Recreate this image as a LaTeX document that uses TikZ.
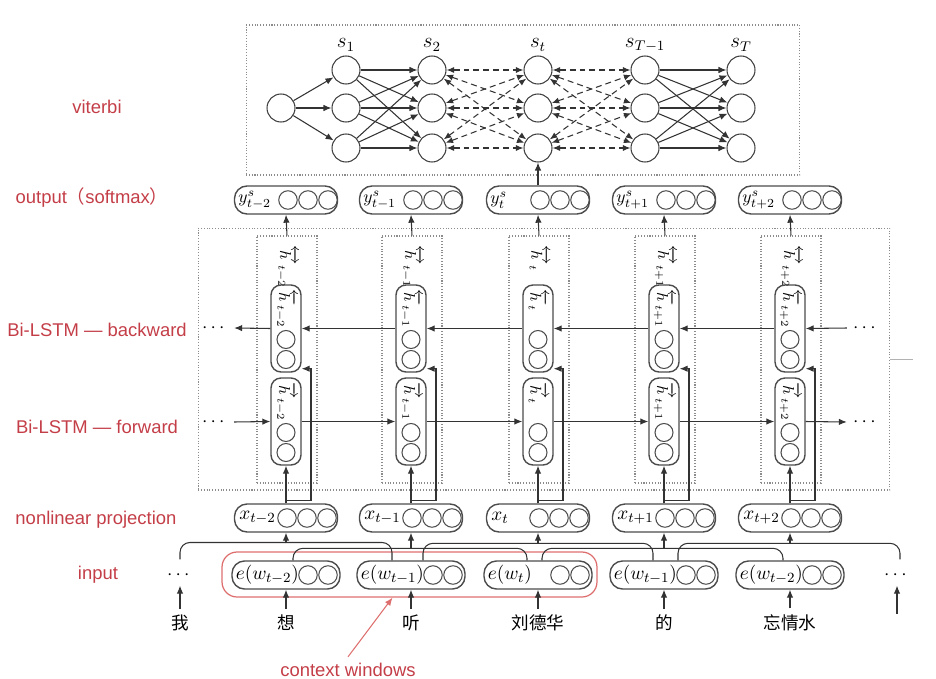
\documentclass[tikz,border=0pt]{standalone}
\usepackage{amsmath}
\usepackage{fontspec}
\newfontfamily\labfont{Liberation Sans}
\newfontfamily\cjk{Noto Sans CJK SC}
\usetikzlibrary{arrows.meta}
\definecolor{labred}{RGB}{196,62,72}
\definecolor{ctxred}{RGB}{222,110,110}

\begin{document}
\begin{tikzpicture}[x=0.02cm, y=-0.02cm, line width=0.6pt,
	every node/.style={font=\fontsize{11}{13}\selectfont},
	arr/.style={draw=black!80, -{Latex[length=1.6mm,width=1.3mm]}},
	darr/.style={draw=black!80, dash pattern=on 1.2mm off 0.8mm, {Latex[length=1.5mm,width=1.2mm]}-{Latex[length=1.5mm,width=1.2mm]}},
	conn/.style={draw=black!80, rounded corners=2mm},
	vit/.style={draw=black!75, circle, minimum size=5.6mm, inner sep=0pt},
	vec/.style={draw=black!70, line width=0.8pt, rounded corners=2.5mm, minimum width=2.06cm, minimum height=0.56cm, inner sep=0pt},
	unit/.style={draw=black!70, circle, minimum size=3.7mm, inner sep=0pt},
	cell/.style={draw=black!70, line width=0.8pt, rounded corners=2mm, minimum width=6mm, minimum height=17.4mm, inner sep=0pt},
	dotbox/.style={draw=black!45, densely dotted, inner sep=0pt},
	lab/.style={text=labred, font=\labfont\fontsize{10.5}{12}\selectfont},
	word/.style={font=\cjk\fontsize{10}{12}\selectfont},
	vlab/.style={rotate=-90, anchor=west, inner sep=1pt, font=\fontsize{9}{10}\selectfont}]
	\useasboundingbox (0,0) rectangle (936,679);
	% layer names on the left
	\node[lab] (lvit) at (97,107) {viterbi};
	\node[lab] (lout) at (92,198) {output{\cjk （}softmax{\cjk ）}};
	\node[lab] (lbw) at (97,330) {Bi-LSTM — backward};
	\node[lab] (lfw) at (97,427) {Bi-LSTM — forward};
	\node[lab] (lproj) at (96,520) {nonlinear projection};
	\node[lab] (lin) at (98,575) {input};
	\node[lab] (lctx) at (348,670) {context windows};
	% viterbi lattice
	\node[dotbox, minimum width=11.08cm, minimum height=3cm] (vbox) at (523,100) {};
	\node[vit] (s0) at (281,108) {};
	\foreach \j/\x/\s in {1/346/1, 2/432/2, 3/538/t, 4/645/{T-1}, 5/741/T} {
		\node[font=\fontsize{12}{14}\selectfont] (ls\j) at (\x,45) {$s_{\s}$};
		\foreach \r/\y in {1/70, 2/108, 3/148}
			\node[vit] (s\j\r) at (\x,\y) {};
	}
	\foreach \r in {1,2,3} {
		\draw[arr] (s0) -- (s1\r);
		\foreach \q in {1,2,3} {
			\draw[arr] (s1\r) -- (s2\q);
			\draw[darr] (s2\r) -- (s3\q);
			\draw[darr] (s3\r) -- (s4\q);
			\draw[arr] (s4\r) -- (s5\q);
		}
	}
	% Bi-LSTM block
	\node[dotbox, minimum width=13.84cm, minimum height=5.24cm] (lstm) at (544,359) {};
	\draw[black!30, line width=0.4pt] (lstm.east) -- ++(23,0);
	\node[draw=ctxred, line width=0.7pt, rounded corners=3mm, minimum width=7.5cm, minimum height=0.9cm] (ctx) at (409.5,574.5) {};
	\foreach \i/\c/\s/\w in {1/286/{t-2}/{t-2}, 2/411/{t-1}/{t-1}, 3/538/t/t, 4/664/{t+1}/{t-1}, 5/790/{t+2}/{t-2}} {
		% output
		\node[vec] (y\i) at (\c,200) {};
		\node[anchor=west, inner sep=0pt, font=\fontsize{10}{12}\selectfont] (yl\i) at ([xshift=0.8mm]y\i.west) {$y^s_{\s}$};
		\foreach \k in {0,1,2} \node[unit] (yc\i\k) at (\c+42-20*\k,200) {};
		% column with both cells
		\node[dotbox, minimum width=1.2cm, minimum height=4.94cm] (col\i) at (\c+1,359.5) {};
		\node[vlab] (hl\i) at ([yshift=-1.5mm]col\i.north) {$\overleftrightarrow{h}_{\s}$};
		\node[cell] (bw\i) at (\c,328.5) {};
		\node[cell] (fw\i) at (\c,421.5) {};
		\node[vlab] (bwl\i) at ([yshift=-0.5mm]bw\i.north) {$\overleftarrow{h}_{\s}$};
		\node[vlab] (fwl\i) at ([yshift=-0.5mm]fw\i.north) {$\overrightarrow{h}_{\s}$};
		\foreach \k/\d in {0/11, 1/31} {
			\node[unit, minimum size=3.6mm] (bc\i\k) at (\c,328.5+\d) {};
			\node[unit, minimum size=3.6mm] (fc\i\k) at (\c,421.5+\d) {};
		}
		% projection
		\node[vec] (x\i) at (\c,518) {};
		\node[anchor=west, inner sep=0pt] (xl\i) at ([xshift=1mm]x\i.west) {$x_{\s}$};
		\foreach \k in {0,1,2} \node[unit] (xc\i\k) at (\c+41-20*\k,518) {};
		% input embedding
		\node[vec, minimum width=2.16cm] (e\i) at (\c,575) {};
		\node[anchor=west, inner sep=0pt] (el\i) at ([xshift=0.8mm]e\i.west) {$e(w_{\w})$};
		\foreach \k in {0,1} \node[unit] (ec\i\k) at (\c+42-20*\k,575) {};
		\draw[arr] (col\i.north) -- (y\i.south);
		\draw[arr] (x\i.north) -- (fw\i.south);
		\draw[arr] ([yshift=0.06cm]x\i.north) -- ++(25,0) |- ([yshift=0.08cm]bw\i.south east);
	}
	\draw[arr] (y3.north) -- (s33);
	\foreach \i [count=\j from 2] in {1,...,4} {
		\draw[arr] (fw\i.east) -- (fw\j.west);
		\draw[arr] (bw\j.west) -- (bw\i.east);
	}
	\node (dbl) at (215,328) {$\cdots$};
	\node (dfl) at (215,422) {$\cdots$};
	\node (dbr) at (866,328) {$\cdots$};
	\node (dfr) at (866,422) {$\cdots$};
	\draw[arr] (bw1.west) -- (dbl.east);
	\draw[arr] (dfl.east) -- (fw1.west);
	\draw[arr] (dbr.west) -- (bw5.east);
	\draw[arr] (fw5.east) -- (dfr.west);
	% context brackets
	\node (dl) at (180,575) {$\cdots$};
	\node (dr) at (897,575) {$\cdots$};
	\node[inner sep=0pt, minimum size=0pt] (e0) at (180,560) {};
	\node[inner sep=0pt, minimum size=0pt] (e6) at (900,560) {};
	\foreach \i/\h/\j/\ls/\rs/\d in {1/0/2/0/-19/17, 2/1/3/7/-11/12, 3/2/4/12/-11/17, 4/3/5/4/-7/12, 5/4/6/14/0/17} {
		\draw[conn] ([xshift=\ls*0.02cm]e\h.north) -- ++(0,-\d) -| ([xshift=\rs*0.02cm]e\j.north);
		\draw[arr] ([yshift=\d*0.02cm]e\i.north) -- (x\i.south);
	}
	% words
	\foreach \i/\c/\t in {0/180/我, 1/286/想, 2/411/听, 3/538/刘德华, 4/664/的, 5/790/忘情水}
		\node[word] (w\i) at (\c,623) {\t};
	\foreach \i in {1,...,5} \draw[arr] (w\i.north) -- (e\i.south);
	\draw[arr] (w0.north) -- (dl.south);
	\coordinate (wr) at (897,614);
	\draw[arr] (wr) -- (dr.south);
	\draw[ctxred, -{Latex[length=1.6mm,width=1.3mm]}] (lctx.north) -- ([xshift=-0.34cm]ctx.south);
\end{tikzpicture}
\end{document}
